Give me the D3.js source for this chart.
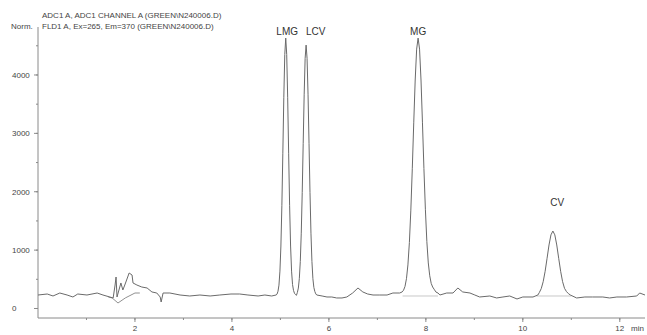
<!DOCTYPE html>
<html><head><meta charset="utf-8">
<script src="https://cdn.jsdelivr.net/npm/d3@7/dist/d3.min.js"></script>
<style>html,body{margin:0;padding:0;background:#fff;overflow:hidden}svg{display:block}text{font-family:"Liberation Sans",Arial,sans-serif;fill:#444}</style>
</head><body><svg id="c" width="647" height="335"></svg>
<script>
// ---- data ----
const headerLines = ["ADC1 A, ADC1 CHANNEL A (GREEN\\N240006.D)", "FLD1 A, Ex=265, Em=370 (GREEN\\N240006.D)"];
const yUnit = "Norm.";
const xUnit = "min";
const xTicks = [2, 4, 6, 8, 10, 12];
const yTicks = [0, 1000, 2000, 3000, 4000];
const time = [0,0.19,0.31,0.45,0.60,0.72,0.82,1.01,1.22,1.34,1.48,1.55,1.59,1.61,1.63,1.71,1.75,1.79,1.88,1.94,1.96,2.04,2.14,2.25,2.35,2.45,2.52,2.54,2.58,2.72,2.93,3.13,3.34,3.55,3.75,3.98,4.16,4.33,4.54,4.68,4.82,4.91,
 4.93,4.95,4.97,4.99,5.01,5.03,5.05,5.07,5.09,5.11,5.13,5.15,5.17,5.19,5.21,5.23,5.25,5.27,5.29,5.31,5.33,
 5.35,5.37,5.39,5.41,5.43,5.45,5.47,5.49,5.51,5.53,5.55,5.57,5.59,5.61,5.63,5.65,5.67,5.69,5.71,5.73,5.75,
 5.86,5.96,6.06,6.16,6.27,6.37,6.49,6.60,6.70,6.80,6.91,7.05,7.20,7.32,7.46,7.51,
 7.54,7.57,7.60,7.63,7.66,7.69,7.72,7.75,7.78,7.81,7.84,7.87,7.90,7.93,7.96,7.99,8.02,8.05,8.08,8.11,8.14,8.17,8.21,8.25,
 8.29,8.43,8.56,8.66,8.76,8.91,9.01,9.11,9.32,9.46,9.59,9.73,9.88,10.00,10.21,10.31,
 10.34,10.38,10.42,10.46,10.50,10.54,10.58,10.62,10.66,10.70,10.74,10.78,10.82,10.86,10.90,10.94,
 10.98,11.11,11.28,11.44,11.65,11.79,11.94,12.14,12.35,12.41,12.52];
const signal = [231,248,214,265,231,197,248,231,265,231,197,180,402,539,197,437,317,402,608,573,437,402,368,351,283,265,197,111,265,265,231,214,231,214,231,248,248,231,214,231,214,231,
 245,295,400,640,1070,1760,2660,3610,4350,4632,4350,3610,2660,1760,1070,640,410,310,260,240,225,
 275,350,510,805,1290,1990,2830,3660,4285,4512,4285,3660,2830,1990,1290,805,510,360,290,250,231,
 214,197,197,180,180,197,265,351,283,248,231,231,231,265,265,283,
 313,378,510,746,1130,1685,2393,3180,3914,4443,4632,4443,3914,3180,2400,1700,1150,780,560,430,368,330,280,265,
 231,265,265,351,283,265,231,197,214,180,197,214,163,197,197,231,
 272,340,459,637,860,1088,1261,1327,1261,1088,860,637,460,345,290,255,
 231,180,197,197,197,180,197,197,214,265,231];
// second (FLD) trace where it separates from the first
const fldTime = [1.45, 1.53, 1.65, 1.80, 2.00, 2.10];
const fldSignal = [197, 180, 94, 180, 265, 265];
// integration baselines under peaks
const baseStart = [7.52, 10.28];
const baseEnd = [8.25, 11.00];
const baseLevel = [214, 214];
// peak labels (position in data units)
const peakNames = ["LMG", "LCV", "MG", "CV"];
const labelTimes = [5.14, 5.73, 7.84, 10.71];
const labelValues = [4685, 4685, 4685, 1756];

// ---- chart ----
const svg = d3.select("#c");
const x = d3.scaleLinear().domain([0, 12.52]).range([38, 645]);
const y = d3.scaleLinear().domain([-163, 4822]).range([318, 27]);

// header
svg.selectAll("text.hdr").data(headerLines).join("text").attr("class","hdr")
  .attr("x", 42).attr("y", (d,i)=>17.5 + i*11).attr("font-size", 8).text(d=>d);
svg.append("text").attr("x", 11).attr("y", 28.5).attr("font-size", 8).text(yUnit);

// axes lines
const axisColor = "#8a8a8a";
svg.append("line").attr("x1", x(0)).attr("x2", x(0)).attr("y1", y.range()[1]).attr("y2", y.range()[0]).attr("stroke", axisColor);
svg.append("line").attr("x1", x(0)).attr("x2", x.range()[1]).attr("y1", y.range()[0]).attr("y2", y.range()[0]).attr("stroke", axisColor);

// y ticks
const yMinor = d3.range(0, 4800, 500);
svg.selectAll("line.ym").data(yMinor).join("line").attr("class","ym")
  .attr("x1", x(0)-2).attr("x2", x(0)).attr("y1", d=>y(d)).attr("y2", d=>y(d)).attr("stroke", axisColor);
svg.selectAll("line.yt").data(yTicks).join("line").attr("class","yt")
  .attr("x1", x(0)-4).attr("x2", x(0)).attr("y1", d=>y(d)).attr("y2", d=>y(d)).attr("stroke", axisColor);
svg.selectAll("text.yl").data(yTicks).join("text").attr("class","yl")
  .attr("x", 12).attr("y", d=>y(d)+3).attr("font-size", 8).text(d=>d);

// x ticks
const xMinor = d3.range(1, 13, 1);
svg.selectAll("line.xm").data(xMinor).join("line").attr("class","xm")
  .attr("x1", d=>x(d)).attr("x2", d=>x(d)).attr("y1", y.range()[0]).attr("y2", y.range()[0]+2).attr("stroke", axisColor);
svg.selectAll("line.xt").data(xTicks).join("line").attr("class","xt")
  .attr("x1", d=>x(d)).attr("x2", d=>x(d)).attr("y1", y.range()[0]).attr("y2", y.range()[0]+4).attr("stroke", axisColor);
svg.selectAll("text.xl").data(xTicks).join("text").attr("class","xl")
  .attr("x", d=>x(d)).attr("y", 331).attr("text-anchor","middle").attr("font-size", 8).text(d=>d);
svg.append("text").attr("x", 644).attr("y", 331).attr("text-anchor","end").attr("font-size", 8).text(xUnit);

// baselines under peaks
svg.selectAll("line.bl").data(baseStart).join("line").attr("class","bl")
  .attr("x1", d=>x(d)).attr("x2", (d,i)=>x(baseEnd[i]))
  .attr("y1", (d,i)=>y(baseLevel[i])).attr("y2", (d,i)=>y(baseLevel[i]))
  .attr("stroke", "#c8c8c8").attr("stroke-width", 1);

const line = d3.line().x(d=>x(d[0])).y(d=>y(d[1]));
svg.append("path").datum(fldTime.map((t,i)=>[t, fldSignal[i]]))
  .attr("d", line).attr("fill","none").attr("stroke","#909090").attr("stroke-width", 1);
svg.append("path").datum(time.map((t,i)=>[t, signal[i]]))
  .attr("d", line).attr("fill","none").attr("stroke","#6a6a6a").attr("stroke-width", 1).attr("stroke-linejoin","round");

// peak labels
svg.selectAll("text.pk").data(peakNames).join("text").attr("class","pk")
  .attr("x", (d,i)=>x(labelTimes[i])).attr("y", (d,i)=>y(labelValues[i]))
  .attr("text-anchor","middle").attr("font-size", 10).style("fill","#333").text(d=>d);
</script></body></html>
